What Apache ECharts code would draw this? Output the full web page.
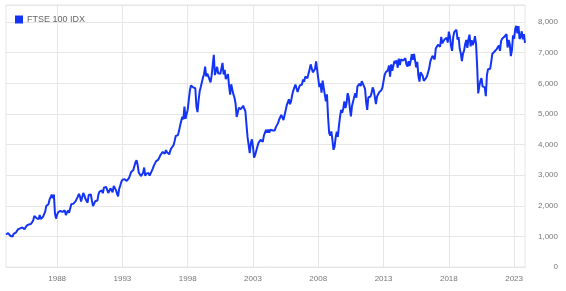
<!DOCTYPE html>
<html><head><meta charset="utf-8">
<script src="https://cdn.jsdelivr.net/npm/echarts@6/dist/echarts.min.js"></script>
<style>html,body{margin:0;padding:0;background:#fff}#c{width:566px;height:291px}</style>
</head><body><div id="c"></div>
<script>
const seriesName = 'FTSE 100 IDX';
const startYear = 1984;
// month-end closes, Jan 1984 .. Oct 2023
const monthlyClose = [
1060,1040,1110,1100,1020,1010,990,1080,1090,1120,1170,1230,
1280,1260,1260,1290,1310,1230,1260,1350,1300,1390,1440,1410,
1430,1520,1670,1630,1600,1650,1560,1700,1570,1630,1640,1680,
1810,1990,2000,2050,2200,2250,2360,2250,2370,1750,1580,1710,
1790,1770,1830,1840,1800,1860,1850,1700,1760,1850,1770,1790,
2050,2020,2070,2120,2150,2150,2300,2390,2300,2140,2280,2420,
2340,2230,2250,2100,2350,2370,2370,2160,1990,2050,2150,2140,
2170,2380,2460,2490,2500,2410,2590,2650,2620,2560,2420,2490,
2570,2560,2440,2650,2710,2520,2400,2310,2550,2660,2780,2850,
2810,2870,2880,2810,2840,2900,2930,3100,3040,3170,3170,3420,
3490,3330,3090,3130,2970,2920,3080,3250,2980,3050,3080,3070,
2990,3010,3140,3220,3320,3320,3460,3480,3510,3530,3660,3690,
3760,3730,3700,3820,3750,3710,3680,3800,3880,3930,3980,4120,
4280,4310,4310,4440,4620,4600,4910,4820,5240,4840,4830,5140,
5460,5770,5930,5930,5870,5830,5840,5250,5060,5440,5740,5880,
5900,6180,6300,6550,6230,6320,6230,6250,6030,6260,6600,6930,
6270,6230,6540,6330,6360,6310,6370,6670,6290,6440,6140,6220,
6300,5920,5630,5970,5800,5640,5530,5340,4900,5040,5200,5220,
5160,5100,5270,5170,5090,4660,4250,4230,3720,4040,4170,3940,
3570,3660,3610,3930,4050,4030,4160,4160,4090,4290,4340,4480,
4390,4490,4390,4490,4430,4460,4410,4460,4570,4620,4700,4810,
4850,4970,4890,4800,4960,5110,5280,5300,5480,5320,5420,5620,
5760,5790,5960,6020,5720,5830,5930,5910,5960,6130,6050,6220,
6200,6170,6310,6450,6620,6610,6360,6300,6470,6720,6430,6460,
5880,6000,5700,6090,6050,5630,5410,5640,4900,4380,4290,4430,
4150,3830,3930,4240,4420,4250,4610,4910,5130,5040,5190,5410,
5190,5350,5680,5550,5190,4920,5260,5230,5550,5680,5530,5900,
5860,5990,5910,6070,5990,5950,5820,5390,5130,5540,5510,5570,
5680,5870,5770,5740,5320,5570,5640,5710,5740,5780,5870,5900,
6280,6360,6410,6430,6580,6220,6620,6410,6460,6730,6650,6750,
6510,6810,6600,6780,6840,6740,6730,6820,6620,6550,6720,6570,
6750,6950,6770,6960,6980,6520,6700,6250,6060,6360,6360,6240,
6080,6100,6170,6240,6230,6500,6720,6780,6900,6950,6780,7140,
7100,7260,7320,7200,7520,7310,7370,7430,7370,7490,7330,7690,
7530,7230,7060,7510,7680,7640,7750,7430,7510,7130,6980,6730,
6970,7070,7280,7420,7160,7430,7590,7210,7410,7250,7350,7540,
7290,6580,5670,5900,6080,6170,5900,5960,5870,5580,6270,6460,
6410,6480,6710,6970,7020,7040,7030,7120,7090,7240,7060,7380,
7460,7460,7520,7540,7610,7170,7420,7280,6890,7090,7570,7450,
7770,7880,7630,7870,7450,7530,7700,7440,7610,7320
];
const xTickYears = [1988, 1993, 1998, 2003, 2008, 2013, 2018, 2023];
const yTickMax = 8000;

const points = monthlyClose.map((v, i) => [startYear + (i + 1) / 12, v]);

const chart = echarts.init(document.getElementById('c'), null, {renderer: 'canvas'});
chart.setOption({
  animation: false,
  backgroundColor: '#fff',
  textStyle: {fontFamily: 'Liberation Sans, Arial, sans-serif'},
  legend: {
    show: true, left: 10, top: 10, itemWidth: 8, itemHeight: 8, itemGap: 4,
    icon: 'rect',
    textStyle: {color: '#666', fontSize: 9, fontFamily: 'Liberation Sans, Arial, sans-serif', padding: [0,0,0,-1]},
    data: [seriesName]
  },
  grid: {left: 6, right: 41, top: 5, bottom: 24, show: true, borderColor: '#e6e6e6', borderWidth: 1, containLabel: false},
  xAxis: {
    type: 'value', min: 'dataMin', max: 'dataMax',
    axisLine: {show: true, lineStyle: {color: '#e6e6e6'}},
    axisTick: {show: false, customValues: xTickYears},
    splitLine: {show: true, lineStyle: {color: '#e6e6e6', width: 1}},
    axisLabel: {customValues: xTickYears, color: '#777', fontSize: 8, margin: 8,
      formatter: v => String(Math.round(v))}
  },
  yAxis: {
    type: 'value', position: 'right', min: 0, max: 8560, interval: 1000,
    axisLine: {show: false}, axisTick: {show: false},
    splitLine: {show: true, lineStyle: {color: '#e6e6e6', width: 1}},
    axisLabel: {color: '#777', fontSize: 8, margin: 33, align: 'right', showMaxLabel: false,
      formatter: v => v > yTickMax ? '' : Number(v).toLocaleString('en-US')}
  },
  series: [{
    name: seriesName, type: 'line', data: points, showSymbol: false, symbol: 'none',
    lineStyle: {color: '#1434f5', width: 2}, itemStyle: {color: '#1434f5'}
  }]
});
</script></body></html>
